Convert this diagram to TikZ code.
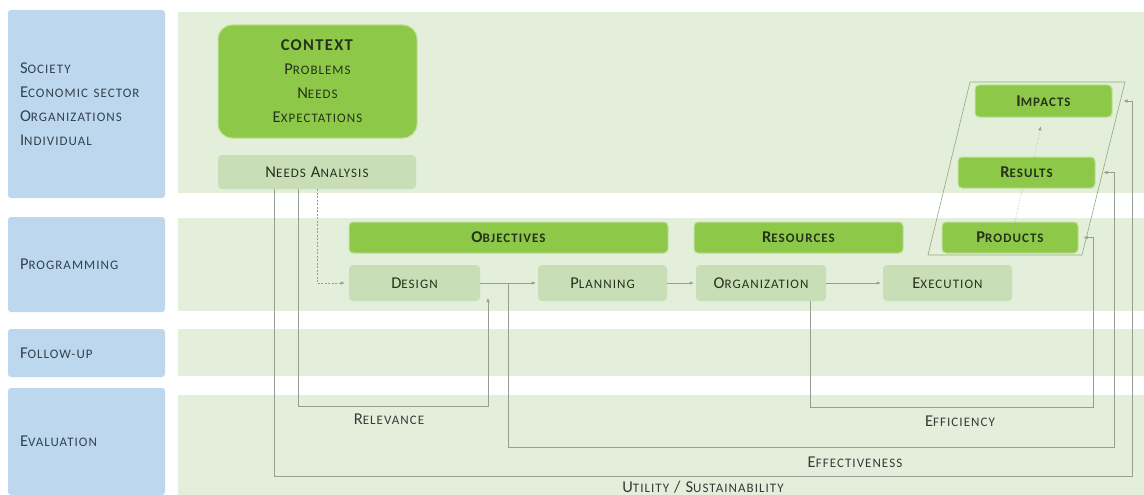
\documentclass[tikz,border=0pt]{standalone}
\usepackage{fontspec}
\setmainfont{Carlito}[LetterSpace=8]
\usepackage{tikz}
\usepackage{xcolor}
\usetikzlibrary{arrows.meta}

\definecolor{laneblue}{RGB}{189,215,238}
\definecolor{laneback}{RGB}{227,239,218}
\definecolor{boxgreen}{RGB}{141,200,72}
\definecolor{boxpale}{RGB}{200,222,182}
\definecolor{linegray}{RGB}{150,157,145}
\definecolor{labelblue}{RGB}{52,64,78}
\definecolor{textdark}{RGB}{38,50,28}

\newcommand{\sml}[1]{{\fontsize{13}{15}\selectfont #1}}

\begin{document}
\begin{tikzpicture}[x=1pt,y=-1pt,
    lane/.style={fill=laneblue, rounded corners=3pt, text width=133pt, inner xsep=12pt, align=left, text=labelblue, font=\fontsize{16.5}{24}\selectfont},
    phase/.style={fill=boxgreen, draw=boxgreen!55!white, line width=1pt, rounded corners=4pt, inner sep=0pt, minimum height=31pt, text=textdark, font=\bfseries\fontsize{16.5}{22}\selectfont},
    task/.style={fill=boxpale, rounded corners=4pt, inner sep=0pt, minimum height=36pt, text=textdark, font=\fontsize{16.5}{22}\selectfont},
    flow/.style={draw=linegray, line width=0.6pt, -{Latex[length=4pt,width=3.5pt]}},
    link/.style={draw=linegray, line width=0.6pt},
    crit/.style={text=black!78, font=\fontsize{16.5}{22}\selectfont}]
    \useasboundingbox (0,0) rectangle (1144,495);
    \fill[laneback] (178,12) rectangle (1144,193);
    \fill[laneback] (178,218) rectangle (1144,311);
    \fill[laneback] (178,329) rectangle (1144,376);
    \fill[laneback] (178,395) rectangle (1144,495);

    \node[lane, minimum height=188pt] (society) at (86.5,104) {S\sml{OCIETY}\\E\sml{CONOMIC SECTOR}\\O\sml{RGANIZATIONS}\\I\sml{NDIVIDUAL}};
    \node[lane, minimum height=95pt] (programming) at (86.5,264.5) {P\sml{ROGRAMMING}};
    \node[lane, minimum height=48pt] (followup) at (86.5,353) {F\sml{OLLOW-UP}};
    \node[lane, minimum height=107pt] (evaluation) at (86.5,441.5) {E\sml{VALUATION}};

    \draw[link, draw=linegray!70!boxgreen] (928,255) -- (1082,255) -- (1125,82) -- (970,82) -- cycle;

    \node[phase, rounded corners=14pt, minimum width=199pt, minimum height=113pt, align=center, font=\fontsize{16.5}{24}\selectfont] (context) at (317.5,81.5) {\textbf{CONTEXT}\\P\sml{ROBLEMS}\\N\sml{EEDS}\\E\sml{XPECTATIONS}};
    \node[task, minimum width=198pt, minimum height=34pt] (needs) at (317,172) {N\sml{EEDS} A\sml{NALYSIS}};
    \node[phase, minimum width=319pt] (objectives) at (508.5,237.5) {O\sml{BJECTIVES}};
    \node[phase, minimum width=209pt] (resources) at (798.5,237.5) {R\sml{ESOURCES}};
    \node[phase, minimum width=136pt] (products) at (1010,237.5) {P\sml{RODUCTS}};
    \node[phase, minimum width=137pt] (results) at (1026.5,172.5) {R\sml{ESULTS}};
    \node[phase, minimum width=137pt, minimum height=32pt] (impacts) at (1043.5,101) {I\sml{MPACTS}};
    \node[task, minimum width=131pt] (design) at (414.5,283) {D\sml{ESIGN}};
    \node[task, minimum width=129pt] (planning) at (602.5,283) {P\sml{LANNING}};
    \node[task, minimum width=130pt] (organization) at (761,283) {O\sml{RGANIZATION}};
    \node[task, minimum width=129pt] (execution) at (947.5,283) {E\sml{XECUTION}};

    \coordinate (relcorner) at (488,406);
    \coordinate (relend) at (488,298);
    \coordinate (efcorner) at (1093,407);
    \coordinate (effcorner) at (1114,447);
    \coordinate (utcorner) at (1132,476);

    \draw[flow, shorten >=2pt] (design) -- (planning);
    \draw[flow, shorten >=2pt] (planning) -- (organization);
    \draw[flow, shorten >=2pt] (organization) -- (execution);
    \draw[flow, dash pattern=on 2pt off 1.5pt, shorten >=4pt] (needs.south) |- (design.west);
    \draw[flow] ([xshift=-19pt]needs.south) |- (relcorner) -- (relend);
    \draw[flow, shorten >=8pt] ([xshift=28pt]design.east) |- (effcorner) |- (results.east);
    \draw[flow, shorten >=5pt] ([xshift=49pt]organization.south) |- (efcorner) |- (products.east);
    \draw[flow, shorten >=11pt] ([xshift=-43pt]needs.south) |- (utcorner) |- (impacts.east);
    \draw[link, dotted] ([xshift=5pt]products.north) -- ([xshift=-4pt]results.south);
    \draw[flow, dotted, shorten >=9pt] ([xshift=8pt]results.north) -- ([xshift=-1pt]impacts.south);

    \node[crit] (relevance) at (389,419) {R\sml{ELEVANCE}};
    \node[crit] (efficiency) at (960,421) {E\sml{FFICIENCY}};
    \node[crit] (effectiveness) at (855,462) {E\sml{FFECTIVENESS}};
    \node[crit] (utility) at (703,487) {U\sml{TILITY} / S\sml{USTAINABILITY}};
\end{tikzpicture}
\end{document}
